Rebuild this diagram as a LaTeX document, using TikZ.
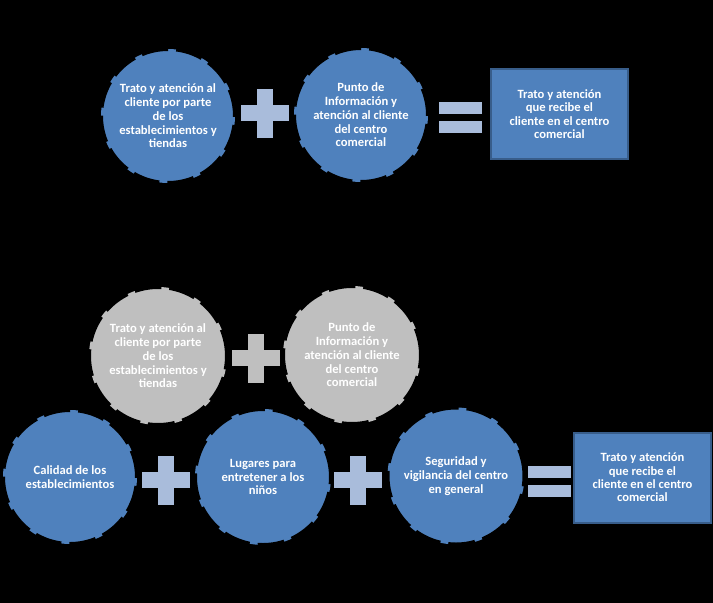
\documentclass[tikz,border=0pt]{standalone}
\usepackage{fontspec}
\setmainfont{Carlito}
\definecolor{blueA}{HTML}{4F81BD}
\definecolor{blueB}{HTML}{385D8A}
\definecolor{plusc}{HTML}{A9BCDB}
\definecolor{grayA}{HTML}{BFBFBF}
\begin{document}
\begin{tikzpicture}[x=1pt,y=-1pt,
  blob/.style={circle, fill=blueA, draw=black, line width=4pt,
    dash pattern=on 27pt off 8pt, minimum size=134pt, inner sep=0pt,
    text=white, align=center, font=\bfseries\fontsize{12.6}{13.7}\selectfont},
  grayblob/.style={blob, fill=grayA},
  result/.style={rectangle, fill=blueA, draw=blueB, line width=2pt,
    minimum width=137pt, minimum height=90pt, inner sep=0pt,
    text=white, align=center, font=\bfseries\fontsize{12.6}{13.3}\selectfont},
  plus/.pic={\fill[pic actions] (-24,-8) rectangle (24,8);
             \fill[pic actions] (-8,-24.5) rectangle (8,24.5);},
  equals/.pic={\fill[pic actions] (-21.5,-15.5) rectangle (21.5,-3.5);
               \fill[pic actions] (-21.5,3.5) rectangle (21.5,15.5);}
]
\fill[black] (0,0) rectangle (713,603);
\useasboundingbox (0,0) rectangle (713,603);

% top row
\node[blob] (t1) at (168,116) {Trato y atención al\\cliente por parte\\de los\\establecimientos y\\tiendas};
\pic[fill=plusc] at (265,113) {plus};
\node[blob] (t2) at (361,115) {Punto de\\Información y\\atención al cliente\\del centro\\comercial};
\pic[fill=plusc] at (460.5,117.5) {equals};
\node[result] (tr) at (559.5,114) {Trato y atención\\que recibe el\\cliente en el centro\\comercial};

% gray row
\node[grayblob, minimum size=138pt] (g1) at (158,356) {Trato y atención al\\cliente por parte\\de los\\establecimientos y\\tiendas};
\pic[fill=grayA] at (256,358) {plus};
\node[grayblob, minimum size=138pt] (g2) at (352,355) {Punto de\\Información y\\atención al cliente\\del centro\\comercial};

% bottom row
\node[blob] (b1) at (70,477) {Calidad de los\\establecimientos};
\pic[fill=plusc] at (166,480) {plus};
\node[blob, minimum size=136pt] (b2) at (263,477) {Lugares para\\entretener a los\\niños};
\pic[fill=plusc] at (358,480) {plus};
\node[blob, minimum size=137pt] (b3) at (456,476) {Seguridad y\\vigilancia del centro\\en general};
\pic[fill=plusc] at (549,481) {equals};
\node[result] (br) at (642.5,477.5) {Trato y atención\\que recibe el\\cliente en el centro\\comercial};
\end{tikzpicture}
\end{document}
